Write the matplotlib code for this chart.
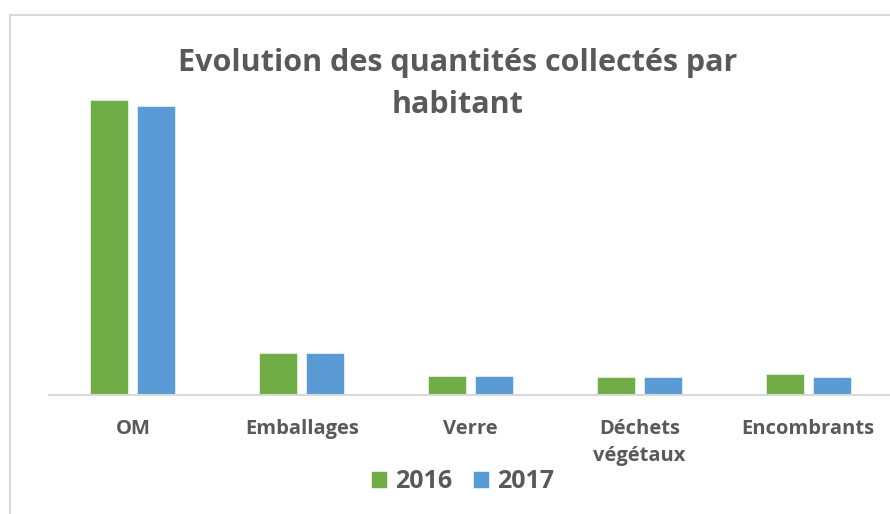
import numpy as np
import matplotlib
matplotlib.use("Agg")
import matplotlib.pyplot as plt
from matplotlib.patches import Rectangle

plt.rcParams['font.family'] = ['Open Sans', 'DejaVu Sans']

categories = ['OM', 'Emballages', 'Verre', 'Déchets\nvégétaux', 'Encombrants']
years = ['2016', '2017']
kg_2016 = [246, 35, 16, 15, 17.5]
kg_2017 = [241, 35, 16, 15, 15]

green = '#70AD47'
blue = '#5B9BD5'
grey_txt = '#595959'

W, H = 890, 514
fig = plt.figure(figsize=(W / 100, H / 100), dpi=100)

# chart frame (runs off the right and bottom edges)
fig.patches.append(Rectangle((10 / W, -0.1), 1.2, (H - 15) / H + 0.1,
                             transform=fig.transFigure, fill=False,
                             edgecolor='#d9d9d9', linewidth=1.5))

# plot area in pixels: x 48.5 -> 892.5, y 40 -> 395
ax = fig.add_axes([48.5 / W, (H - 395) / H, 844 / W, 355 / H])
x = np.arange(len(categories))
w = 0.225
ax.bar(x - 0.139, kg_2016, w, color=green, label=years[0], edgecolor='white', linewidth=0.4)
ax.bar(x + 0.139, kg_2017, w, color=blue, label=years[1], edgecolor='white', linewidth=0.4)

ax.set_xlim(-0.5, 4.5)
ax.set_ylim(0, 355 / 1.2)
ax.set_yticks([])
ax.set_xticks(x)
ax.set_xticklabels(categories, fontsize=14.5, fontweight='bold', color=grey_txt,
                   linespacing=1.5, va='top')
ax.tick_params(axis='x', length=0, pad=17)
for side in ['top', 'right', 'left']:
    ax.spines[side].set_visible(False)
ax.spines['bottom'].set_color('#d9d9d9')
ax.spines['bottom'].set_linewidth(1.5)
ax.patch.set_alpha(0)

fig.text(458 / W, 1 - 84 / H, 'Evolution des quantités collectés par\nhabitant',
         ha='center', va='center', fontsize=22, fontweight='bold', color=grey_txt,
         linespacing=1.55)

fig.legend(loc='center', bbox_to_anchor=(462.5 / W, 1 - 482 / H), ncol=2, frameon=False,
           prop={'size': 18, 'weight': 'bold'}, labelcolor=grey_txt,
           handlelength=0.64, handleheight=0.64, handletextpad=0.32, columnspacing=0.84)

fig.savefig('out.png', dpi=100)
